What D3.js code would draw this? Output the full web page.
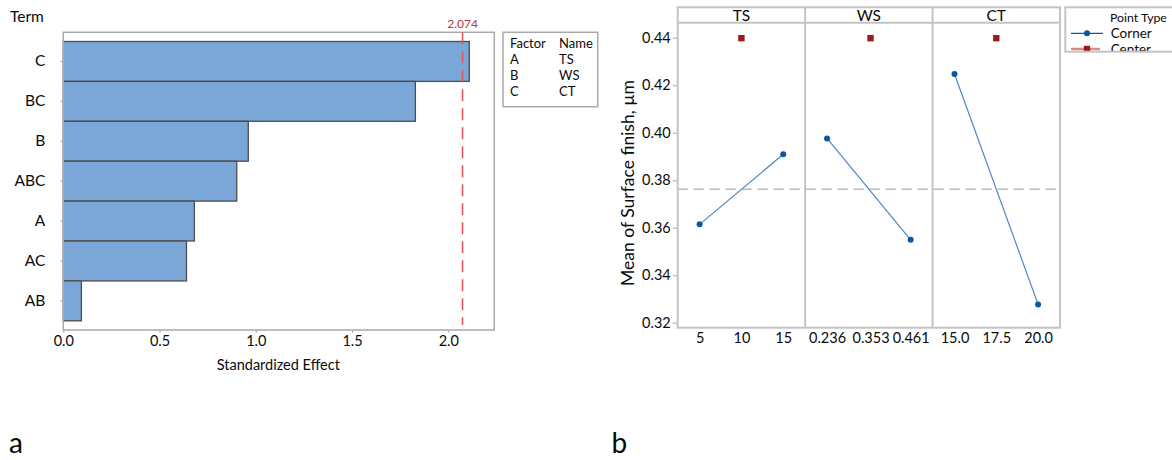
<!DOCTYPE html>
<html>
<head>
<meta charset="utf-8">
<script src="https://cdn.jsdelivr.net/npm/d3@7"></script>
<style>
  html, body { margin: 0; padding: 0; background: #fff; }
  svg { display: block; font-family: Lato, "Open Sans", sans-serif; }
</style>
</head>
<body>
<svg id="chart" width="1172" height="460"></svg>
<script>
// ---------- Data: Pareto chart (a) ----------
const terms = ["C", "BC", "B", "ABC", "A", "AC", "AB"];
const effects = [2.109, 1.829, 0.961, 0.901, 0.681, 0.640, 0.094];
const xTicksA = [0.0, 0.5, 1.0, 1.5, 2.0];
const critical = 2.074;
const factorCodes = ["A", "B", "C"];
const factorNames = ["TS", "WS", "CT"];

// ---------- Data: Main effects plot (b) ----------
const panels = ["TS", "WS", "CT"];
const cornerLevels = [[5, 15], [0.236, 0.461], [15.0, 20.0]];
const cornerMeans = [[0.3614, 0.3909], [0.3976, 0.3549], [0.4247, 0.3277]];
const centerLevels = [10, 0.353, 17.5];
const centerMeans = [0.4398, 0.4398, 0.4398];
const panelTicks = [[5, 10, 15], [0.236, 0.353, 0.461], [15.0, 17.5, 20.0]];
const panelTickLabels = [["5", "10", "15"], ["0.236", "0.353", "0.461"], ["15.0", "17.5", "20.0"]];
const yTicksB = [0.32, 0.34, 0.36, 0.38, 0.40, 0.42, 0.44];
const overallMean = 0.3762;

const svg = d3.select("#chart");
const frameGray = "#a9a9a9";
const ink = "#0a0a0a";

// ================= Chart (a) =================
const A = { left: 63.3, right: 494.3, top: 32.3, bottom: 330 };
const xA = d3.scaleLinear().domain([0, 2.239]).range([A.left, A.right]);
const yA = d3.scaleBand().domain(terms).range([A.top, A.bottom]).paddingInner(0).paddingOuter(0.23);

const gA = svg.append("g");

// bars
gA.selectAll("rect.bar").data(terms).join("rect")
  .attr("class", "bar")
  .attr("x", xA(0))
  .attr("y", d => yA(d))
  .attr("width", (d, i) => xA(effects[i]) - xA(0))
  .attr("height", yA.bandwidth())
  .attr("fill", "#7ba6d8")
  .attr("stroke", "#4d4d4d")
  .attr("stroke-width", 1.3);

// frame
gA.append("rect")
  .attr("x", A.left).attr("y", A.top)
  .attr("width", A.right - A.left).attr("height", A.bottom - A.top)
  .attr("fill", "none").attr("stroke", frameGray).attr("stroke-width", 1.5);

// y axis
const yAxisA = gA.append("g").attr("transform", `translate(${A.left},0)`)
  .call(d3.axisLeft(yA).tickSize(3).tickPadding(15));
yAxisA.select(".domain").remove();
yAxisA.selectAll(".tick line").attr("stroke", frameGray);
yAxisA.selectAll(".tick text").attr("font-size", 15.5).attr("fill", ink).attr("font-family", "Lato");

// x axis
const xAxisA = gA.append("g").attr("transform", `translate(0,${A.bottom})`)
  .call(d3.axisBottom(xA).tickValues(xTicksA).tickFormat(d3.format(".1f")).tickSize(3).tickPadding(3));
xAxisA.select(".domain").remove();
xAxisA.selectAll(".tick line").attr("stroke", frameGray);
xAxisA.selectAll(".tick text").attr("font-size", 14.5).attr("fill", ink).attr("font-family", "Lato");

// reference line
gA.append("line")
  .attr("x1", xA(critical)).attr("x2", xA(critical))
  .attr("y1", A.top).attr("y2", 325)
  .attr("stroke", "#e0575c").attr("stroke-width", 1.6)
  .attr("stroke-dasharray", "12,7");
gA.append("text")
  .attr("x", xA(critical)).attr("y", 23)
  .attr("text-anchor", "middle").attr("dominant-baseline", "central")
  .attr("font-size", 12).attr("fill", "#b2383c")
  .text(d3.format(".3f")(critical));

// titles
gA.append("text").attr("x", 10).attr("y", 16).attr("dominant-baseline", "central")
  .attr("font-size", 15.5).attr("fill", ink).text("Term");
gA.append("text").attr("x", (A.left + A.right) / 2 - 0.5).attr("y", 364.5)
  .attr("text-anchor", "middle").attr("dominant-baseline", "central")
  .attr("font-size", 14.5).attr("fill", ink).text("Standardized Effect");

// factor legend
const legA = gA.append("g");
legA.append("rect").attr("x", 503).attr("y", 32.3).attr("width", 94.7).attr("height", 74.4)
  .attr("fill", "#fff").attr("stroke", frameGray).attr("stroke-width", 1.5);
const legRowsY = [42.7, 59.3, 75.2, 90.9];
legA.append("text").attr("x", 510).attr("y", legRowsY[0]).attr("dominant-baseline", "central")
  .attr("font-size", 13).attr("fill", ink).text("Factor");
legA.append("text").attr("x", 559).attr("y", legRowsY[0]).attr("dominant-baseline", "central")
  .attr("font-size", 13).attr("fill", ink).text("Name");
factorCodes.forEach((c, i) => {
  legA.append("text").attr("x", 510).attr("y", legRowsY[i + 1]).attr("dominant-baseline", "central")
    .attr("font-size", 13).attr("fill", ink).text(c);
  legA.append("text").attr("x", 559).attr("y", legRowsY[i + 1]).attr("dominant-baseline", "central")
    .attr("font-size", 13).attr("fill", ink).text(factorNames[i]);
});

// ================= Chart (b) =================
const B = { left: 677.7, right: 1060, stripTop: 7.3, top: 22.7, bottom: 327.7 };
const bGray = "#c4c4c4";
const yB = d3.scaleLinear().domain([0.31789, 0.44632]).range([B.bottom, B.top]);
const panelX = d3.scaleBand().domain(panels).range([B.left, B.right]).padding(0);
const gB = svg.append("g");

// mean dashed line (behind)
gB.append("line")
  .attr("x1", B.left).attr("x2", B.right)
  .attr("y1", yB(overallMean)).attr("y2", yB(overallMean))
  .attr("stroke", "#b9b9b9").attr("stroke-width", 1.6).attr("stroke-dasharray", "10,6");

panels.forEach((p, i) => {
  const x0 = panelX(p), w = panelX.bandwidth();
  const lv = panelTicks[i];
  const span = lv[2] - lv[0];
  const pad = span * 0.262;
  const xs = d3.scaleLinear().domain([lv[0] - pad, lv[2] + pad]).range([x0, x0 + w]);
  const g = gB.append("g");

  // strip label
  g.append("text").attr("x", x0 + w / 2).attr("y", 15)
    .attr("text-anchor", "middle").attr("dominant-baseline", "central")
    .attr("font-size", 15.5).attr("fill", ink).text(p);

  // corner line
  const pts = cornerLevels[i].map((l, k) => [xs(l), yB(cornerMeans[i][k])]);
  g.append("path").attr("d", d3.line()(pts))
    .attr("fill", "none").attr("stroke", "#4f86c8").attr("stroke-width", 1.2);
  g.selectAll("circle").data(pts).join("circle")
    .attr("cx", d => d[0]).attr("cy", d => d[1]).attr("r", 3)
    .attr("fill", "#0b56a6");

  // center point
  g.append("rect")
    .attr("x", xs(centerLevels[i]) - 3.2).attr("y", yB(centerMeans[i]) - 3.2)
    .attr("width", 6.4).attr("height", 6.4).attr("fill", "#9b1b1d");

  // x axis
  const ax = g.append("g").attr("transform", `translate(0,${B.bottom})`)
    .call(d3.axisBottom(xs).tickValues(lv).tickFormat((d, k) => panelTickLabels[i][k]).tickSize(0).tickPadding(5));
  ax.select(".domain").remove();
  ax.selectAll(".tick text").attr("font-size", 14.5).attr("fill", ink).attr("font-family", "Lato");

  // panel divider
  if (i > 0) {
    g.append("line").attr("x1", x0).attr("x2", x0).attr("y1", B.stripTop).attr("y2", B.bottom)
      .attr("stroke", bGray).attr("stroke-width", 2);
  }
});

// outer frame + strip
gB.append("rect").attr("x", B.left).attr("y", B.stripTop)
  .attr("width", B.right - B.left).attr("height", B.bottom - B.stripTop)
  .attr("fill", "none").attr("stroke", bGray).attr("stroke-width", 2);
gB.append("line").attr("x1", B.left).attr("x2", B.right).attr("y1", B.top).attr("y2", B.top)
  .attr("stroke", bGray).attr("stroke-width", 2);

// y axis
const yAxisB = gB.append("g").attr("transform", `translate(${B.left},0)`)
  .call(d3.axisLeft(yB).tickValues(yTicksB).tickFormat(d3.format(".2f")).tickSize(5).tickPadding(2));
yAxisB.select(".domain").remove();
yAxisB.selectAll(".tick line").attr("stroke", bGray).attr("stroke-width", 1.5);
yAxisB.selectAll(".tick text").attr("font-size", 14.5).attr("fill", ink).attr("font-family", "Lato");

gB.append("text")
  .attr("transform", `translate(627,183) rotate(-90)`)
  .attr("text-anchor", "middle").attr("dominant-baseline", "central")
  .attr("font-size", 17.5).attr("fill", ink).text("Mean of Surface finish, µm");

// point type legend (clipped at right edge like the reference)
const legB = gB.append("g");
legB.append("rect").attr("x", 1065.3).attr("y", 7.3).attr("width", 130).attr("height", 44.4)
  .attr("fill", "#fff").attr("stroke", bGray).attr("stroke-width", 2);
const clipId = "legclip";
svg.append("defs").append("clipPath").attr("id", clipId)
  .append("rect").attr("x", 1066).attr("y", 8).attr("width", 120).attr("height", 42.7);
const legInner = legB.append("g").attr("clip-path", `url(#${clipId})`);
legInner.append("text").attr("x", 1110).attr("y", 17.5).attr("dominant-baseline", "central")
  .attr("font-size", 12.3).attr("fill", ink).text("Point Type");
legInner.append("text").attr("x", 1110.7).attr("y", 32.5).attr("dominant-baseline", "central")
  .attr("font-size", 13.5).attr("fill", ink).text("Corner");
legInner.append("text").attr("x", 1110.7).attr("y", 49).attr("dominant-baseline", "central")
  .attr("font-size", 13.5).attr("fill", ink).text("Center");
legInner.append("line").attr("x1", 1071).attr("x2", 1103).attr("y1", 33.3).attr("y2", 33.3)
  .attr("stroke", "#0b56a6").attr("stroke-width", 1.2);
legInner.append("circle").attr("cx", 1087).attr("cy", 33.3).attr("r", 3).attr("fill", "#0b56a6");
legInner.append("line").attr("x1", 1071).attr("x2", 1100).attr("y1", 49).attr("y2", 49)
  .attr("stroke", "#d38c8c").attr("stroke-width", 2.5);
legInner.append("rect").attr("x", 1083.8).attr("y", 45.8).attr("width", 6.4).attr("height", 6.4).attr("fill", "#9b1b1d");

// panel letters
svg.append("text").attr("x", 9).attr("y", 452.5).attr("font-size", 28).attr("fill", ink).text("a");
svg.append("text").attr("x", 611.5).attr("y", 452.5).attr("font-size", 28).attr("fill", ink).text("b");
</script>
</body>
</html>
